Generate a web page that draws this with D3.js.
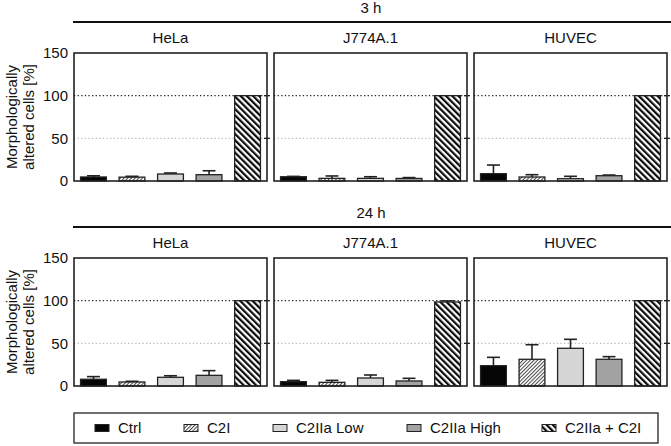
<!DOCTYPE html>
<html>
<head>
<meta charset="utf-8">
<script src="https://cdn.jsdelivr.net/npm/d3@7"></script>
<style>
body { margin: 0; background: #fff; }
text { font-family: Arial, "Liberation Sans", sans-serif; fill: #111; }
</style>
</head>
<body>
<script>
var timepoints = ["3 h", "24 h"];
var cellLines = ["HeLa", "J774A.1", "HUVEC"];
var treatments = ["Ctrl", "C2I", "C2IIa Low", "C2IIa High", "C2IIa + C2I"];
var yTicks = [0, 50, 100, 150];

// means per cell line (rows: HeLa, J774A.1, HUVEC)
var mean3h = [[4.7, 4.5, 8.2, 7.4, 100], [5.0, 3.1, 3.1, 3.0, 100], [8.6, 4.7, 2.7, 6.2, 100]];
var sd3h = [[1.4, 1.0, 1.2, 4.6, 0], [0.4, 2.8, 1.9, 1.0, 0], [10.1, 2.7, 2.8, 0.8, 0]];
var mean24h = [[7.9, 4.7, 10.2, 12.5, 100], [5.1, 4.3, 9.4, 5.9, 98.5], [23.8, 31.3, 44.2, 31.3, 100]];
var sd24h = [[3.1, 0.8, 1.8, 5.5, 0], [1.5, 2.3, 3.5, 3.1, 1.2], [9.8, 17.1, 10.5, 3.1, 0]];

var means = [mean3h, mean24h], sds = [sd3h, sd24h];

var W = 671, H = 446;
var svg = d3.select("body").append("svg")
  .attr("width", W).attr("height", H);

var defs = svg.append("defs");
// fine hatch for C2I
var p1 = defs.append("pattern").attr("id", "hatchFine")
  .attr("patternUnits", "userSpaceOnUse").attr("width", 2.6).attr("height", 2.6)
  .attr("patternTransform", "rotate(45)");
p1.append("rect").attr("width", 2.6).attr("height", 2.6).attr("fill", "#fff");
p1.append("line").attr("x1", 0).attr("y1", 0).attr("x2", 0).attr("y2", 2.6)
  .attr("stroke", "#444").attr("stroke-width", 2);
// coarse hatch for combo
var p2 = defs.append("pattern").attr("id", "hatchBold")
  .attr("patternUnits", "userSpaceOnUse").attr("width", 4.4).attr("height", 4.4)
  .attr("patternTransform", "rotate(-45)");
p2.append("rect").attr("width", 4.4).attr("height", 4.4).attr("fill", "#fff");
p2.append("rect").attr("x", 0).attr("y", 0).attr("width", 2.2).attr("height", 4.4)
  .attr("fill", "#0a0a0a");

var fills = ["#050505", "url(#hatchFine)", "#d6d6d6", "#a3a3a3", "url(#hatchBold)"];

var panelX = [[74, 267], [274, 467], [474, 667]];
var rows = [
  {line: 22, label: 8, title: 38, top: 53, bottom: 181},
  {line: 227, label: 213, title: 243, top: 258, bottom: 386}
];

rows.forEach(function(r, ri) {
  svg.append("line").attr("x1", 73).attr("x2", W).attr("y1", r.line).attr("y2", r.line)
    .attr("stroke", "#111").attr("stroke-width", 1.8);
  svg.append("text").attr("x", 371).attr("y", r.label).attr("dy", "0.35em")
    .attr("text-anchor", "middle").style("font-size", "15px").text(timepoints[ri]);

  var y = d3.scaleLinear().domain([0, 150]).range([r.bottom, r.top]);

  cellLines.forEach(function(cl, ci) {
    var x0 = panelX[ci][0], x1 = panelX[ci][1];
    var x = d3.scaleBand().domain(treatments).range([x0, x1])
      .paddingInner(0.33).paddingOuter(0.17);
    var g = svg.append("g");

    g.append("text").attr("x", (x0 + x1) / 2).attr("y", r.title).attr("dy", "0.35em")
      .attr("text-anchor", "middle").style("font-size", "15px").text(cl);

    // reference lines
    g.append("line").attr("x1", x0).attr("x2", x1).attr("y1", y(100)).attr("y2", y(100))
      .attr("stroke", "#222").attr("stroke-width", 1.4).attr("stroke-dasharray", "1.3,2.3");
    g.append("line").attr("x1", x0).attr("x2", x1).attr("y1", y(50)).attr("y2", y(50))
      .attr("stroke", "#bbb").attr("stroke-width", 1.4).attr("stroke-dasharray", "1.3,2.3");
    [50, 100].forEach(function(v) {
      g.append("line").attr("x1", x1 - 3).attr("x2", x1 + 3).attr("y1", y(v)).attr("y2", y(v))
        .attr("stroke", "#222").attr("stroke-width", 1.3);
    });

    var data = treatments.map(function(t, i) {
      return {t: t, m: means[ri][ci][i], s: sds[ri][ci][i], f: fills[i]};
    });

    // error bars (upper only)
    var eb = g.selectAll(".eb").data(data.filter(function(d) { return d.s > 0; }))
      .enter().append("g");
    eb.append("line")
      .attr("x1", function(d) { return x(d.t) + x.bandwidth() / 2; })
      .attr("x2", function(d) { return x(d.t) + x.bandwidth() / 2; })
      .attr("y1", function(d) { return y(d.m); })
      .attr("y2", function(d) { return y(d.m + d.s); })
      .attr("stroke", "#222").attr("stroke-width", 1.6);
    eb.append("line")
      .attr("x1", function(d) { return x(d.t) + x.bandwidth() / 4; })
      .attr("x2", function(d) { return x(d.t) + x.bandwidth() * 3 / 4; })
      .attr("y1", function(d) { return y(d.m + d.s); })
      .attr("y2", function(d) { return y(d.m + d.s); })
      .attr("stroke", "#222").attr("stroke-width", 1.6);

    g.selectAll(".bar").data(data).enter().append("rect")
      .attr("x", function(d) { return x(d.t); })
      .attr("width", x.bandwidth())
      .attr("y", function(d) { return y(d.m); })
      .attr("height", function(d) { return y(0) - y(d.m); })
      .attr("fill", function(d) { return d.f; })
      .attr("stroke", "#222").attr("stroke-width", 1.3);

    g.append("rect").attr("x", x0).attr("y", r.top).attr("width", x1 - x0)
      .attr("height", r.bottom - r.top).attr("fill", "none")
      .attr("stroke", "#222").attr("stroke-width", 1.6);

    if (ci === 0) {
      var ax = g.append("g").attr("transform", "translate(" + x0 + ",0)")
        .call(d3.axisLeft(y).tickValues(yTicks).tickSize(0).tickPadding(6));
      ax.select(".domain").remove();
      ax.selectAll("text").style("font-size", "15px")
        .style("font-family", "Arial, 'Liberation Sans', sans-serif").attr("fill", "#111");
    }
  });

  var yl = svg.append("text").attr("transform", "translate(0," + ((r.top + r.bottom) / 2) + ") rotate(-90)")
    .attr("text-anchor", "middle").style("font-size", "15px");
  yl.append("tspan").attr("x", 0).attr("y", 12).attr("dy", "0.35em").text("Morphologically");
  yl.append("tspan").attr("x", 0).attr("y", 29).attr("dy", "0.35em").text("altered cells [%]");
});

// legend
svg.append("rect").attr("x", 74).attr("y", 413).attr("width", 584).attr("height", 30)
  .attr("fill", "none").attr("stroke", "#333").attr("stroke-width", 1.4);
var legX = [95, 184, 273, 407, 542];
var lg = svg.selectAll(".leg").data(treatments).enter().append("g")
  .attr("transform", function(d, i) { return "translate(" + legX[i] + ",428)"; });
lg.append("rect").attr("x", 0).attr("y", -3.5).attr("width", 14).attr("height", 7)
  .attr("fill", function(d, i) { return fills[i]; })
  .attr("stroke", "#222").attr("stroke-width", 1);
lg.append("text").attr("x", 23).attr("dy", "0.35em").style("font-size", "15px")
  .text(function(d) { return d; });
</script>
</body>
</html>
